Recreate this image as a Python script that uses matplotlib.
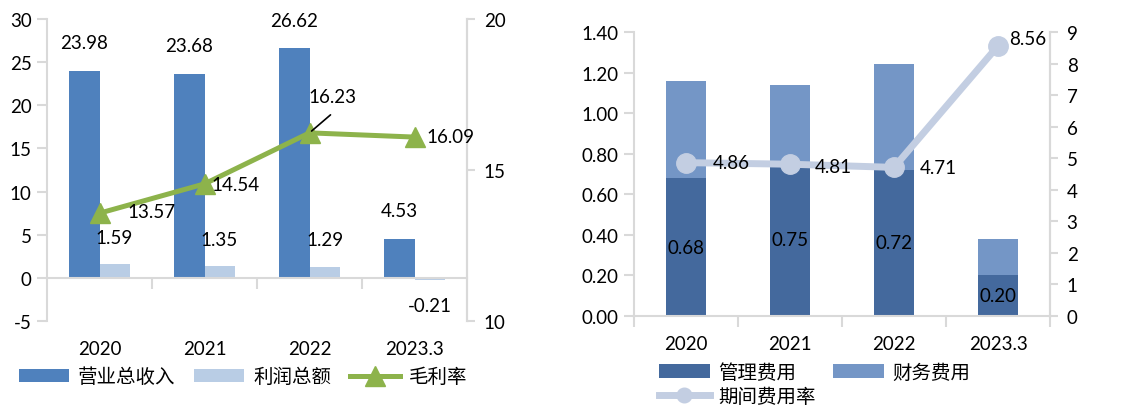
import matplotlib
matplotlib.use("Agg")
import matplotlib.pyplot as plt
import numpy as np

plt.rcParams['font.family'] = ['Lato', 'Noto Sans CJK SC', 'DejaVu Sans']

# ---------------- data ----------------
categories = ["2020", "2021", "2022", "2023.3"]
revenue = [23.98, 23.68, 26.62, 4.53]          # 营业总收入
profit = [1.59, 1.35, 1.29, -0.21]             # 利润总额
gross_margin = [13.57, 14.54, 16.23, 16.09]    # 毛利率

mgmt_fee = [0.68, 0.75, 0.72, 0.20]            # 管理费用
fin_fee = [0.48, 0.39, 0.52, 0.18]             # 财务费用
period_rate = [4.86, 4.81, 4.71, 8.56]         # 期间费用率

left_ticks = [-5, 0, 5, 10, 15, 20, 25, 30]
left_right_ticks = [10, 15, 20]
right_ticks = [0.0, 0.2, 0.4, 0.6, 0.8, 1.0, 1.2, 1.4]
right_right_ticks = list(range(0, 10))

# ---------------- style ----------------
C_REV = "#4F81BD"
C_PROF = "#B9CDE5"
C_GM = "#8DB34B"
C_MGMT = "#44699D"
C_FIN = "#7496C6"
C_RATE = "#C3CEE2"
GRID = "#D9D9D9"
FS = 13.5
LFS = 14

fig = plt.figure(figsize=(11.29, 4.10), dpi=100)

x = np.arange(len(categories))

# ================= left chart =================
ax1 = fig.add_axes([47/1129, 1-322/410, 420/1129, 302/410])
bw = 0.286
b1 = ax1.bar(x - bw/2, revenue, bw, color=C_REV, zorder=2)
b2 = ax1.bar(x + bw/2, profit, bw, color=C_PROF, zorder=2)
ax1.set_xlim(-0.5, 3.5)
ax1.set_ylim(-5, 30)
ax1.set_yticks(left_ticks)
ax1.set_yticklabels([str(t) for t in left_ticks])
ax1.spines["top"].set_visible(False)
for s in ["left", "right"]:
    ax1.spines[s].set_color(GRID)
    ax1.spines[s].set_linewidth(1.5)
ax1.spines["bottom"].set_position(("data", 0))
ax1.spines["bottom"].set_color(GRID)
ax1.spines["bottom"].set_linewidth(1.5)
ax1.set_xticks(x)
ax1.set_xticklabels(categories)
ax1.set_xticks([0.5, 1.5, 2.5], minor=True)
ax1.tick_params(axis="x", which="major", length=0, pad=45, labelsize=FS)
ax1.tick_params(axis="x", which="minor", length=8, width=1.5, color=GRID, direction="out")
ax1.tick_params(axis="y", length=7, width=1.5, color=GRID, pad=4, labelsize=FS)

ax1b = ax1.twinx()
ax1b.set_ylim(10, 20)
ax1b.set_yticks(left_right_ticks)
for s in ["top", "bottom", "left"]:
    ax1b.spines[s].set_visible(False)
ax1b.spines["right"].set_color(GRID)
ax1b.spines["right"].set_linewidth(1.5)
ax1b.tick_params(axis="y", length=6, width=1.5, color=GRID, pad=6, labelsize=FS)
gl, = ax1b.plot(x, gross_margin, color=C_GM, lw=3.6, marker="^", markersize=15,
                zorder=3)

for i, v in enumerate(revenue):
    ax1.annotate(f"{v:.2f}", (x[i] - bw/2, v), xytext=(0, 28), textcoords="offset pixels",
                 ha="center", va="center", fontsize=FS)
for i, v in enumerate(profit):
    off = 27 if v >= 0 else -26
    ax1.annotate(f"{v:.2f}", (x[i] + bw/2, v), xytext=(0, off), textcoords="offset pixels",
                 ha="center", va="center", fontsize=FS)
gm_off = [(52, 2), (31, -1), (23, 36), (36, 1)]
for i, v in enumerate(gross_margin):
    ax1b.annotate(f"{v:.2f}", (x[i], v), xytext=gm_off[i], textcoords="offset pixels",
                  ha="center", va="center", fontsize=FS, zorder=5)
# leader line for 16.23
ax1b.annotate("", (x[2], gross_margin[2]), xytext=(21, 18), textcoords="offset pixels",
              arrowprops=dict(arrowstyle="-", color="black", lw=1.2, shrinkA=0, shrinkB=2))

fig.legend([b1, b2, gl], ["营业总收入", "利润总额", "毛利率"], loc="center",
           bbox_to_anchor=(243/1129, 1-377/410), ncol=3, frameon=False, fontsize=LFS,
           handlelength=2.6, handleheight=0.7, handletextpad=0.45, columnspacing=0.95,
           borderpad=0, borderaxespad=0)

# ================= right chart =================
ax2 = fig.add_axes([634/1129, 1-317/410, 416/1129, 284/410])
bw2 = 0.39
m1 = ax2.bar(x, mgmt_fee, bw2, color=C_MGMT, zorder=2)
m2 = ax2.bar(x, fin_fee, bw2, bottom=mgmt_fee, color=C_FIN, zorder=2)
ax2.set_xlim(-0.5, 3.5)
ax2.set_ylim(0, 1.4)
ax2.set_yticks(right_ticks)
ax2.set_yticklabels([f"{t:.2f}" for t in right_ticks])
ax2.spines["top"].set_visible(False)
for s in ["left", "right", "bottom"]:
    ax2.spines[s].set_color(GRID)
    ax2.spines[s].set_linewidth(1.5)
ax2.set_xticks(x)
ax2.set_xticklabels(categories)
ax2.set_xticks([-0.5, 0.5, 1.5, 2.5, 3.5], minor=True)
ax2.tick_params(axis="x", which="major", length=0, pad=14, labelsize=FS)
ax2.tick_params(axis="x", which="minor", length=8, width=1.5, color=GRID, direction="out")
ax2.tick_params(axis="y", length=7, width=1.5, color=GRID, pad=4, labelsize=FS)

ax2b = ax2.twinx()
ax2b.set_ylim(0, 9)
ax2b.set_yticks(right_right_ticks)
for s in ["top", "bottom", "left"]:
    ax2b.spines[s].set_visible(False)
ax2b.spines["right"].set_color(GRID)
ax2b.spines["right"].set_linewidth(1.5)
ax2b.tick_params(axis="y", length=6, width=1.5, color=GRID, pad=6, labelsize=FS)
rl, = ax2b.plot(x, period_rate, color=C_RATE, lw=5, marker="o", markersize=14,
                zorder=3)

for i, v in enumerate(mgmt_fee):
    ax2.annotate(f"{v:.2f}", (x[i], v/2), ha="center", va="center", fontsize=FS, zorder=5)
pr_off = [(45, 0), (43, -2), (44, 0), (30, 7)]
for i, v in enumerate(period_rate):
    ax2b.annotate(f"{v:.2f}", (x[i], v), xytext=pr_off[i], textcoords="offset pixels",
                  ha="center", va="center", fontsize=FS, zorder=5)

fig.legend([m1, rl, m2], ["管理费用", "期间费用率", "财务费用"], loc="upper left",
           bbox_to_anchor=(659/1129, 1-363/410), ncol=2, frameon=False, fontsize=LFS,
           handlelength=2.6, handleheight=0.7, handletextpad=0.45, columnspacing=0.9,
           labelspacing=0.32, markerscale=0.75, borderpad=0, borderaxespad=0)

fig.savefig("out.png", dpi=100)
